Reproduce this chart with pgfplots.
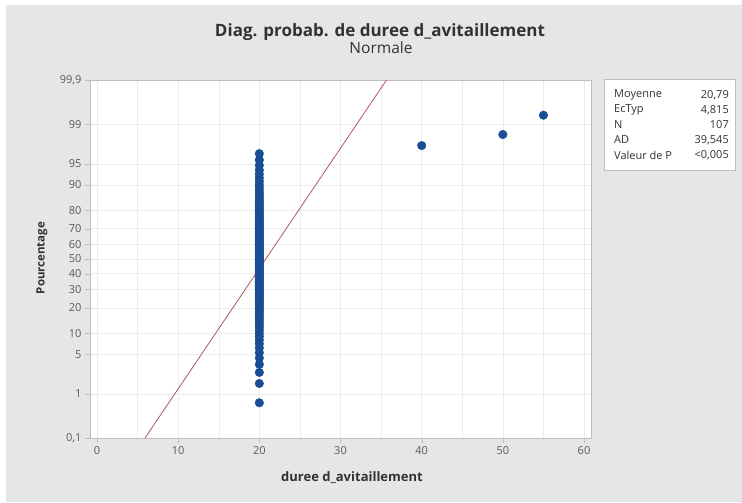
\documentclass[border=0pt]{standalone}
\usepackage{fontspec}
\setmainfont{Open Sans}
\usepackage{pgfplots}
\pgfplotsset{compat=1.18}
\definecolor{bg}{RGB}{230,230,230}
\definecolor{ptc}{RGB}{24,78,150}
\definecolor{fitc}{RGB}{180,85,95}
\definecolor{framec}{RGB}{190,190,190}
\definecolor{gridc}{RGB}{236,236,236}
\definecolor{tickc}{RGB}{90,90,90}
\definecolor{labc}{RGB}{50,50,50}
\begin{document}
\begin{tikzpicture}[x=1pt,y=1pt]
\fill[white] (0pt,0pt) rectangle (742pt,503pt);
\fill[bg] (6pt,1pt) rectangle (742pt,498pt);
\begin{axis}[at={(90pt,65pt)}, anchor=south west, scale only axis,
 width=501pt, height=358pt,
 xmin=-0.862, xmax=60.86, ymin=-3.0902, ymax=3.0902,
 axis background/.style={fill=white},
 xtick={0,10,...,60}, minor xtick={5,15,...,55},
 ytick={-3.0902,-2.3263,-1.6449,-1.2816,-0.8416,-0.5244,-0.2533,0,0.2533,0.5244,0.8416,1.2816,1.6449,2.3263,3.0902},
 yticklabels={{0,1},1,5,10,20,30,40,50,60,70,80,90,95,99,{99,9}},
 grid=both, major grid style={gridc}, minor grid style={gridc},
 axis line style={framec}, tick style={framec},
 tick align=outside, major tick length=5pt, minor tick length=0pt,
 xtick pos=bottom, ytick pos=left,
 ticklabel style={font=\fontsize{11}{13}\selectfont, text=tickc},
 /pgf/number format/assume math mode=true,
 clip=true,
]
\addplot[fitc, line width=0.8pt] coordinates {(5.912,-3.0902) (35.668,3.0902)};
\addplot[only marks, mark=*, mark size=4.3pt, mark options={fill=ptc, draw=ptc}] table[row sep=\\] {
x y\\
20 -2.482\\ 20 -2.149\\ 20 -1.958\\ 20 -1.819\\ 20 -1.709\\ 20 -1.616\\ 20 -1.535\\ 20 -1.463\\ 20 -1.398\\ 20 -1.339\\
20 -1.284\\ 20 -1.232\\ 20 -1.184\\ 20 -1.138\\ 20 -1.094\\ 20 -1.053\\ 20 -1.013\\ 20 -0.975\\ 20 -0.938\\ 20 -0.902\\
20 -0.868\\ 20 -0.834\\ 20 -0.802\\ 20 -0.770\\ 20 -0.739\\ 20 -0.709\\ 20 -0.679\\ 20 -0.650\\ 20 -0.621\\ 20 -0.593\\
20 -0.566\\ 20 -0.538\\ 20 -0.512\\ 20 -0.485\\ 20 -0.459\\ 20 -0.433\\ 20 -0.408\\ 20 -0.383\\ 20 -0.358\\ 20 -0.333\\
20 -0.308\\ 20 -0.284\\ 20 -0.260\\ 20 -0.235\\ 20 -0.212\\ 20 -0.188\\ 20 -0.164\\ 20 -0.140\\ 20 -0.117\\ 20 -0.094\\
20 -0.070\\ 20 -0.047\\ 20 -0.023\\ 20 0\\
20 0.023\\ 20 0.047\\ 20 0.070\\ 20 0.094\\ 20 0.117\\ 20 0.140\\ 20 0.164\\ 20 0.188\\ 20 0.212\\ 20 0.235\\
20 0.260\\ 20 0.284\\ 20 0.308\\ 20 0.333\\ 20 0.358\\ 20 0.383\\ 20 0.408\\ 20 0.433\\ 20 0.459\\ 20 0.485\\
20 0.512\\ 20 0.538\\ 20 0.566\\ 20 0.593\\ 20 0.621\\ 20 0.650\\ 20 0.679\\ 20 0.709\\ 20 0.739\\ 20 0.770\\
20 0.802\\ 20 0.834\\ 20 0.868\\ 20 0.902\\ 20 0.938\\ 20 0.975\\ 20 1.013\\ 20 1.053\\ 20 1.094\\ 20 1.138\\
20 1.184\\ 20 1.232\\ 20 1.284\\ 20 1.339\\ 20 1.398\\ 20 1.463\\ 20 1.535\\ 20 1.616\\ 20 1.709\\ 20 1.819\\
40 1.958\\ 50 2.149\\ 55 2.482\\
};
\end{axis}
\node[font=\bfseries\fontsize{17}{19}\selectfont, text=labc] at (380pt,471pt) {Diag. probab. de duree d\_avitaillement};
\node[font=\fontsize{15.5}{17}\selectfont, text=labc] at (381pt,455pt) {Normale};
\node[font=\bfseries\fontsize{13}{15}\selectfont, text=labc] at (352pt,25pt) {duree d\_avitaillement};
\node[font=\bfseries\fontsize{11.5}{13}\selectfont, text=labc, rotate=90] at (42pt,245pt) {Pourcentage};
\draw[framec, fill=white] (604pt,424pt) rectangle (735pt,333pt);
\begin{scope}[every node/.style={font=\fontsize{11}{12}\selectfont, text=labc, inner sep=0pt}]
\node[anchor=west] at (614pt,408pt) {Moyenne};
\node[anchor=west] at (614pt,393pt) {EcTyp};
\node[anchor=west] at (614pt,378pt) {N};
\node[anchor=west] at (614pt,363pt) {AD};
\node[anchor=west] at (614pt,348pt) {Valeur de P};
\node[anchor=east] at (729pt,408pt) {20,79};
\node[anchor=east] at (729pt,393pt) {4,815};
\node[anchor=east] at (729pt,378pt) {107};
\node[anchor=east] at (729pt,363pt) {39,545};
\node[anchor=east] at (729pt,348pt) {<0,005};
\end{scope}
\end{tikzpicture}
\end{document}
